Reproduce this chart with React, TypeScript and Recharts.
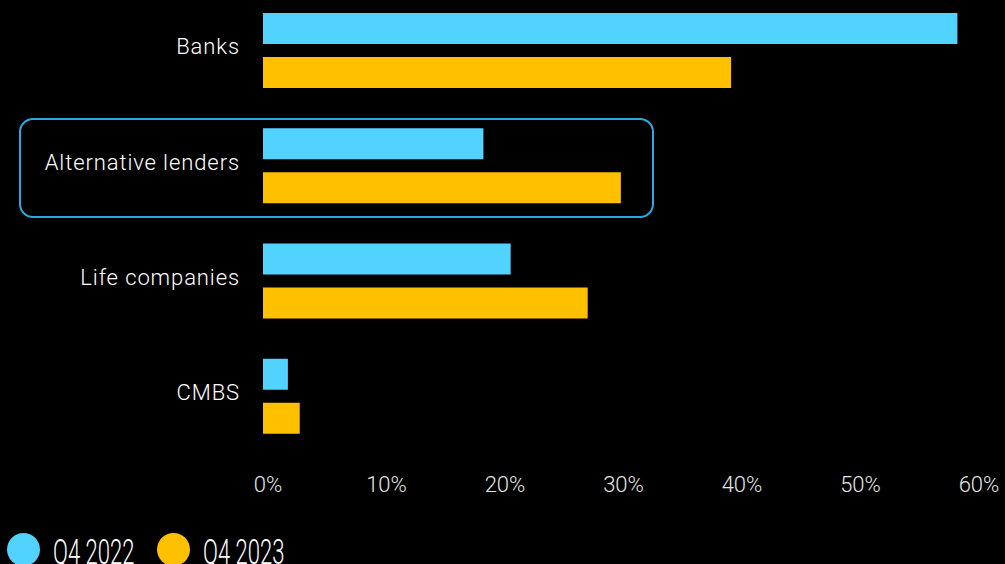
import { BarChart, Bar, XAxis, YAxis } from 'recharts'

const categories = ['Banks', 'Alternative lenders', 'Life companies', 'CMBS']
const q42022 = [58.6, 18.6, 20.9, 2.1]
const q42023 = [39.5, 30.2, 27.4, 3.1]
const xTicks = [0, 10, 20, 30, 40, 50, 60]
const seriesNames = ['Q4 2022', 'Q4 2023']

const CYAN = '#52D3FF'
const GOLD = '#FFC000'

const chartData = categories.map((name, i) => ({
  name,
  q22: q42022[i],
  q23: q42023[i],
}))

function LegendRow() {
  const colors = [CYAN, GOLD]
  return (
    <div style={{ position: 'absolute', left: 7, top: 533, display: 'flex', alignItems: 'center' }}>
      {seriesNames.map((s, i) => (
        <div key={s} style={{ display: 'flex', alignItems: 'center', width: i === 0 ? 150 : 140 }}>
          <span style={{ width: 33, height: 33, borderRadius: '50%', background: colors[i], display: 'inline-block', flex: 'none' }} />
          <span
            style={{
              color: '#fff',
              fontFamily: 'Roboto',
              fontWeight: 300,
              fontSize: 35,
              marginLeft: 13,
              lineHeight: '33px',
              display: 'inline-block',
              transform: 'scaleX(0.63)',
              transformOrigin: 'left center',
              whiteSpace: 'nowrap',
              position: 'relative',
              top: 3,
            }}
          >
            {s}
          </span>
        </div>
      ))}
    </div>
  )
}

export default function App() {
  return (
    <div style={{ position: 'absolute', left: 0, top: 0, width: 1005, height: 564, background: '#000', overflow: 'hidden' }}>
      <div style={{ position: 'absolute', left: 0, top: -7 }}>
        <BarChart
          width={1005}
          height={520}
          data={chartData}
          layout="vertical"
          margin={{ top: 0, right: 31, bottom: 19, left: 0 }}
          barSize={31}
          barGap={13}
        >
          <XAxis
            type="number"
            domain={[0, 60]}
            ticks={xTicks}
            tickFormatter={v => `${v}%`}
            axisLine={false}
            tickLine={false}
            height={40}
            tickSize={0}
            tickMargin={22}
            tick={{ fill: '#e6e6e6', fontSize: 22, fontFamily: 'Roboto', fontWeight: 300, dx: 5 }}
          />
          <YAxis
            type="category"
            dataKey="name"
            width={263}
            axisLine={false}
            tickLine={false}
            tickSize={0}
            tickMargin={23}
            tick={{ fill: '#ffffff', fontSize: 22, fontFamily: 'Roboto', fontWeight: 300, letterSpacing: 0.9, dy: -4 }}
          />
          <Bar dataKey="q22" name={seriesNames[0]} fill={CYAN} isAnimationActive={false} />
          <Bar dataKey="q23" name={seriesNames[1]} fill={GOLD} isAnimationActive={false} />
        </BarChart>
      </div>
      <div
        style={{
          position: 'absolute',
          left: 19,
          top: 118,
          width: 635,
          height: 100,
          boxSizing: 'border-box',
          border: '2.5px solid #2AAAE2',
          borderRadius: 14,
        }}
      />
      <LegendRow />
    </div>
  )
}
